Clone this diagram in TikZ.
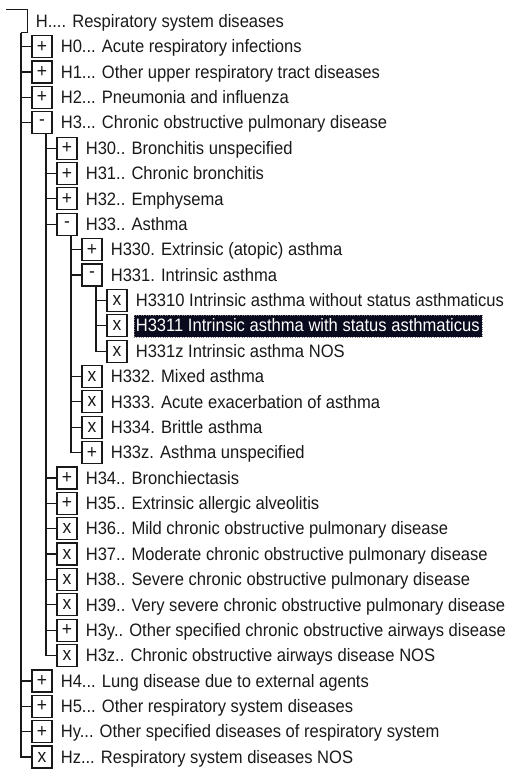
\documentclass[tikz,border=0pt]{standalone}
\usepackage{xcolor}
\usepackage{fontspec}
\setmainfont[FakeStretch=0.92]{Liberation Sans}
\usepackage{tikz}
\usetikzlibrary{positioning}
\definecolor{hl}{RGB}{10,10,30}
\tikzstyle{tbox} = [rectangle, draw=black!90, line width=1.2pt, minimum width=20pt, minimum height=22pt, inner sep=0pt, text=black!90, font=\fontsize{19}{19}\selectfont]
\tikzstyle{entry} = [anchor=west, inner sep=0pt, text height=12.4pt, text depth=0pt, text=black!90, font=\fontsize{18}{18}\selectfont]
\tikzstyle{picked} = [fill=hl, text=white, inner xsep=2pt, inner ysep=4.8pt, draw=gray, dotted]
\tikzstyle{branch} = [draw=black!90, line width=1.2pt]

\begin{document}
\begin{tikzpicture}[x=1pt, y=-25.37pt]
   \useasboundingbox (0,-0.8396) rectangle (512,29.472);
   \node (root) [tbox, draw=none] at (17,0) {};
   \node (h0) [tbox] at (42,1) {+};
   \node (h1) [tbox] at (42,2) {+};
   \node (h2) [tbox] at (42,3) {+};
   \node (h3) [tbox] at (42,4) {-};
   \node (h30) [tbox] at (67,5) {+};
   \node (h31) [tbox] at (67,6) {+};
   \node (h32) [tbox] at (67,7) {+};
   \node (h33) [tbox] at (67,8) {-};
   \node (h330) [tbox] at (92,9) {+};
   \node (h331) [tbox] at (92,10) {-};
   \node (h3310) [tbox] at (117,11) {x};
   \node (h3311) [tbox] at (117,12) {x};
   \node (h331z) [tbox] at (117,13) {x};
   \node (h332) [tbox] at (92,14) {x};
   \node (h333) [tbox] at (92,15) {x};
   \node (h334) [tbox] at (92,16) {x};
   \node (h33z) [tbox] at (92,17) {+};
   \node (h34) [tbox] at (67,18) {+};
   \node (h35) [tbox] at (67,19) {+};
   \node (h36) [tbox] at (67,20) {x};
   \node (h37) [tbox] at (67,21) {x};
   \node (h38) [tbox] at (67,22) {x};
   \node (h39) [tbox] at (67,23) {x};
   \node (h3y) [tbox] at (67,24) {+};
   \node (h3z) [tbox] at (67,25) {x};
   \node (h4) [tbox] at (42,26) {+};
   \node (h5) [tbox] at (42,27) {+};
   \node (hy) [tbox] at (42,28) {+};
   \node (hz) [tbox] at (42,29) {x};

   \node (troot) [entry, right=8pt of root] {H.... Respiratory system diseases};
   \node (th0) [entry, right=8pt of h0] {H0... Acute respiratory infections};
   \node (th1) [entry, right=8pt of h1] {H1... Other upper respiratory tract diseases};
   \node (th2) [entry, right=8pt of h2] {H2... Pneumonia and influenza};
   \node (th3) [entry, right=8pt of h3] {H3... Chronic obstructive pulmonary disease};
   \node (th30) [entry, right=8pt of h30] {H30.. Bronchitis unspecified};
   \node (th31) [entry, right=8pt of h31] {H31.. Chronic bronchitis};
   \node (th32) [entry, right=8pt of h32] {H32.. Emphysema};
   \node (th33) [entry, right=8pt of h33] {H33.. Asthma};
   \node (th330) [entry, right=8pt of h330] {H330. Extrinsic (atopic) asthma};
   \node (th331) [entry, right=8pt of h331] {H331. Intrinsic asthma};
   \node (th3310) [entry, right=8pt of h3310] {H3310 Intrinsic asthma without status asthmaticus};
   \node (th3311) [entry, picked, right=6pt of h3311] {H3311 Intrinsic asthma with status asthmaticus};
   \node (th331z) [entry, right=8pt of h331z] {H331z Intrinsic asthma NOS};
   \node (th332) [entry, right=8pt of h332] {H332. Mixed asthma};
   \node (th333) [entry, right=8pt of h333] {H333. Acute exacerbation of asthma};
   \node (th334) [entry, right=8pt of h334] {H334. Brittle asthma};
   \node (th33z) [entry, right=8pt of h33z] {H33z. Asthma unspecified};
   \node (th34) [entry, right=8pt of h34] {H34.. Bronchiectasis};
   \node (th35) [entry, right=8pt of h35] {H35.. Extrinsic allergic alveolitis};
   \node (th36) [entry, right=8pt of h36] {H36.. Mild chronic obstructive pulmonary disease};
   \node (th37) [entry, right=8pt of h37] {H37.. Moderate chronic obstructive pulmonary disease};
   \node (th38) [entry, right=8pt of h38] {H38.. Severe chronic obstructive pulmonary disease};
   \node (th39) [entry, right=8pt of h39] {H39.. Very severe chronic obstructive pulmonary disease};
   \node (th3y) [entry, right=8pt of h3y] {H3y.. Other specified chronic obstructive airways disease};
   \node (th3z) [entry, right=8pt of h3z] {H3z.. Chronic obstructive airways disease NOS};
   \node (th4) [entry, right=8pt of h4] {H4... Lung disease due to external agents};
   \node (th5) [entry, right=8pt of h5] {H5... Other respiratory system diseases};
   \node (thy) [entry, right=8pt of hy] {Hy... Other specified diseases of respiratory system};
   \node (thz) [entry, right=8pt of hz] {Hz... Respiratory system diseases NOS};

   \draw [branch] (root.north west) -- (root.north east) -- (root.south east) -- ([xshift=4pt]root.south);
   \draw [branch] ([xshift=4pt]root.south) |- (h0.west);
   \draw [branch] ([xshift=4pt]root.south) |- (h1.west);
   \draw [branch] ([xshift=4pt]root.south) |- (h2.west);
   \draw [branch] ([xshift=4pt]root.south) |- (h3.west);
   \draw [branch] ([xshift=4pt]root.south) |- (h4.west);
   \draw [branch] ([xshift=4pt]root.south) |- (h5.west);
   \draw [branch] ([xshift=4pt]root.south) |- (hy.west);
   \draw [branch] ([xshift=4pt]root.south) |- (hz.west);
   \draw [branch] ([xshift=4pt]h3.south) |- (h30.west);
   \draw [branch] ([xshift=4pt]h3.south) |- (h31.west);
   \draw [branch] ([xshift=4pt]h3.south) |- (h32.west);
   \draw [branch] ([xshift=4pt]h3.south) |- (h33.west);
   \draw [branch] ([xshift=4pt]h3.south) |- (h34.west);
   \draw [branch] ([xshift=4pt]h3.south) |- (h35.west);
   \draw [branch] ([xshift=4pt]h3.south) |- (h36.west);
   \draw [branch] ([xshift=4pt]h3.south) |- (h37.west);
   \draw [branch] ([xshift=4pt]h3.south) |- (h38.west);
   \draw [branch] ([xshift=4pt]h3.south) |- (h39.west);
   \draw [branch] ([xshift=4pt]h3.south) |- (h3y.west);
   \draw [branch] ([xshift=4pt]h3.south) |- (h3z.west);
   \draw [branch] ([xshift=4pt]h33.south) |- (h330.west);
   \draw [branch] ([xshift=4pt]h33.south) |- (h331.west);
   \draw [branch] ([xshift=4pt]h33.south) |- (h332.west);
   \draw [branch] ([xshift=4pt]h33.south) |- (h333.west);
   \draw [branch] ([xshift=4pt]h33.south) |- (h334.west);
   \draw [branch] ([xshift=4pt]h33.south) |- (h33z.west);
   \draw [branch] ([xshift=4pt]h331.south) |- (h3310.west);
   \draw [branch] ([xshift=4pt]h331.south) |- (h3311.west);
   \draw [branch] ([xshift=4pt]h331.south) |- (h331z.west);
\end{tikzpicture}
\end{document}
